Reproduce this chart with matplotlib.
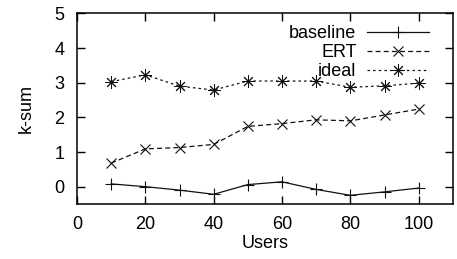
import matplotlib
matplotlib.use("Agg")
import matplotlib.pyplot as plt

plt.rcParams['font.family'] = ['Liberation Sans', 'DejaVu Sans']

# data
users = [10, 20, 30, 40, 50, 60, 70, 80, 90, 100]
baseline = [0.08, 0.0, -0.1, -0.22, 0.06, 0.14, -0.08, -0.25, -0.15, -0.04]
ert = [0.68, 1.09, 1.13, 1.22, 1.74, 1.82, 1.93, 1.90, 2.07, 2.24]
ideal = [3.03, 3.23, 2.90, 2.79, 3.05, 3.05, 3.05, 2.87, 2.91, 2.99]

fig = plt.figure(figsize=(4.57, 2.59), dpi=100)
ax = fig.add_axes([0.1685, 0.2124, 0.8225, 0.7356])

ax.plot(users, baseline, color="#111111", lw=0.9, marker="+", ms=8, mew=0.8,
        label="baseline")
ax.plot(users, ert, color="#111111", lw=0.9, ls=(0, (4, 2.5)), marker="x", ms=7,
        mew=0.8, label="ERT")
ax.plot(users, ideal, color="#111111", lw=0.9, ls=(0, (2, 2.5)), marker=(8, 2, 0),
        ms=9, mew=0.7, label="ideal")

ax.set_xlim(0, 110)
ax.set_ylim(-0.5, 5)
ax.set_xticks([0, 20, 40, 60, 80, 100])
ax.set_yticks([0, 1, 2, 3, 4, 5])
ax.tick_params(direction="in", top=True, right=True, length=6, width=1,
               labelsize=13, pad=9)
for s in ax.spines.values():
    s.set_linewidth(1.1)

ax.set_xlabel("Users", fontsize=13, labelpad=1)
ax.set_ylabel("k-sum", fontsize=13, labelpad=14)

ax.legend(loc="upper right", frameon=False, markerfirst=False,
          handlelength=3.4, fontsize=13, labelspacing=0.1,
          handletextpad=0.6, borderaxespad=0.0, bbox_to_anchor=(0.955, 0.975))

fig.savefig("out.png", dpi=100)
